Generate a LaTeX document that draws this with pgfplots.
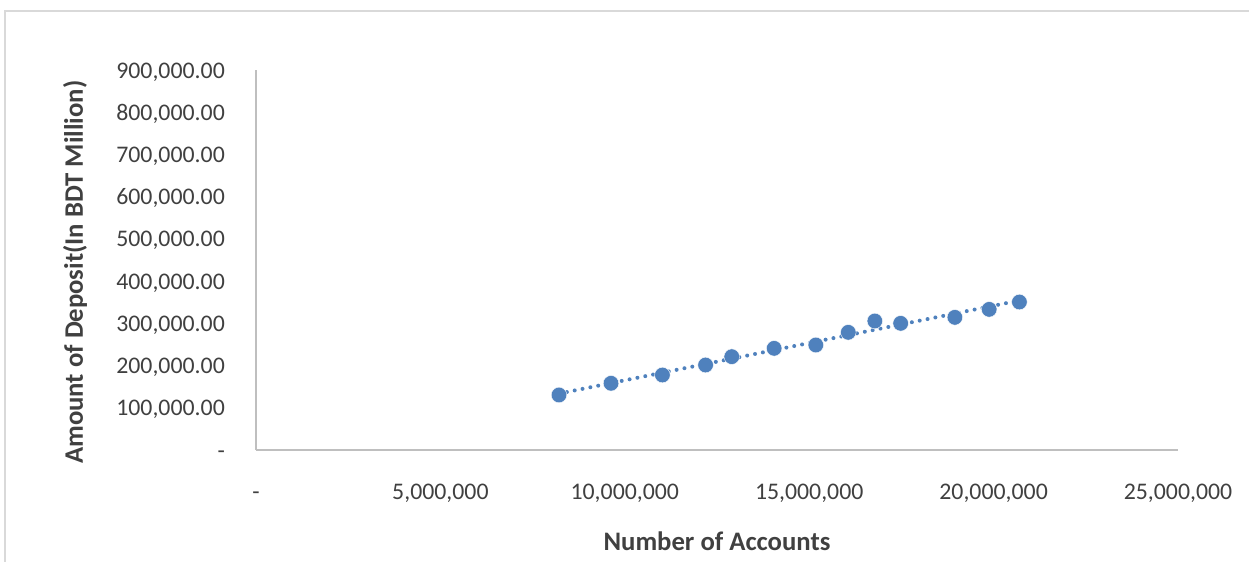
\documentclass[border=0pt]{standalone}
\usepackage{pgfplots}
\usepackage{pgfplotstable}
\pgfplotsset{compat=1.18}
\usepackage{fontspec}
\setmainfont{Carlito}
\definecolor{ptblue}{HTML}{4F81BD}
\definecolor{txtgray}{HTML}{404040}
\definecolor{axgray}{HTML}{BFBFBF}
\definecolor{framegray}{HTML}{D9D9D9}

\pgfplotstableread{
x y
8216000 130300
9626000 158000
11020000 177600
12190000 201300
12900000 221000
14050000 240800
15180000 248700
16060000 278700
16780000 305500
17480000 300000
18950000 314200
19880000 333100
20700000 350500
}\depdata

\begin{document}
\begin{tikzpicture}
\path[use as bounding box] (-256bp,-112bp) rectangle (993bp,450bp);
\draw[framegray, line width=2bp] (-251bp,-112bp) -- (-251bp,439bp) -- (993bp,439bp);
\begin{axis}[
  at={(0,0)}, anchor=south west,
  scale only axis, width=922bp, height=380bp,
  xmin=0, xmax=25000000, ymin=0, ymax=900000,
  scaled ticks=false,
  axis lines*=left,
  axis line style={draw=axgray, line width=1.3bp},
  major tick length=0pt, tick style={draw=none},
  clip=false,
  font=\fontsize{23.8bp}{28bp}\selectfont,
  xtick={0,5000000,10000000,15000000,20000000,25000000},
  xticklabels={{-},{5,000,000},{10,000,000},{15,000,000},{20,000,000},{25,000,000}},
  ytick={0,100000,200000,300000,400000,500000,600000,700000,800000,900000},
  yticklabels={{-},{100,000.00},{200,000.00},{300,000.00},{400,000.00},{500,000.00},{600,000.00},{700,000.00},{800,000.00},{900,000.00}},
  xticklabel style={anchor=base, inner sep=0pt, yshift=-49bp, text=txtgray},
  yticklabel style={anchor=base east, inner sep=0pt, xshift=-31bp, yshift=-8bp, text=txtgray},
  xlabel={\textbf{Number of Accounts}},
  ylabel={\textbf{Amount of Deposit(In BDT Million)}},
  xlabel style={at={(axis description cs:0.5,-0.2395)}, anchor=center, text=txtgray, font=\fontsize{26.7bp}{31bp}\selectfont},
  ylabel style={at={(axis description cs:-0.1963,0.468)}, anchor=center, rotate=0, text=txtgray, font=\fontsize{26.7bp}{31bp}\selectfont},
]
\addplot[ptblue, line width=4bp, line cap=round, dash pattern=on 0pt off 8bp, no marks]
  table[x=x, y={create col/linear regression={y=y}}] {\depdata};
\addplot[only marks, mark=*, mark size=7.8bp, mark options={fill=ptblue, draw=white, line width=0.4bp}]
  table[x=x, y=y] {\depdata};
\end{axis}
\end{tikzpicture}
\end{document}
